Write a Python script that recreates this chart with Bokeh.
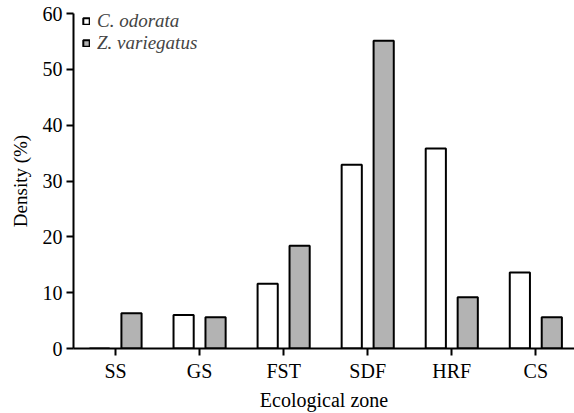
from bokeh.plotting import figure
from bokeh.models import Range1d, FixedTicker, ColumnDataSource, Legend, LegendItem
from bokeh.transform import dodge
from bokeh.embed import file_html
from bokeh.resources import INLINE

zones = ["SS", "GS", "FST", "SDF", "HRF", "CS"]
c_odorata = [0.0, 6.0, 11.6, 32.9, 35.8, 13.6]
z_variegatus = [6.3, 5.6, 18.4, 55.1, 9.2, 5.6]
y_ticks = [0, 10, 20, 30, 40, 50, 60]

FONT = "Liberation Serif"

src = ColumnDataSource(dict(x=list(range(len(zones))), c=c_odorata, z=z_variegatus))

p = figure(width=574, height=413, output_backend="svg", toolbar_location=None,
           x_range=Range1d(-0.5, 5.46), y_range=Range1d(0, 60),
           min_border_left=73, min_border_right=0, min_border_top=13, min_border_bottom=64)
p.outline_line_color = None
p.grid.visible = False

r1 = p.vbar(x=dodge("x", -0.19, range=p.x_range), top="c", width=0.24, source=src,
            fill_color="white", line_color="black", line_width=2)
r2 = p.vbar(x=dodge("x", 0.19, range=p.x_range), top="z", width=0.24, source=src,
            fill_color="#b3b3b3", line_color="black", line_width=2)

p.xaxis.ticker = FixedTicker(ticks=list(range(len(zones))))
p.xaxis.major_label_overrides = {i: z for i, z in enumerate(zones)}
p.yaxis.ticker = FixedTicker(ticks=y_ticks)

for ax in (p.xaxis[0], p.yaxis[0]):
    ax.axis_line_width = 2
    ax.major_tick_line_width = 2
    ax.major_tick_out = 7
    ax.major_tick_in = 0
    ax.minor_tick_out = 0
    ax.minor_tick_in = 0
    ax.major_label_text_font = FONT
    ax.major_label_text_font_size = "20px"
    ax.major_label_text_color = "black"
    ax.axis_label_text_font = FONT
    ax.axis_label_text_font_size = "20px"
    ax.axis_label_text_font_style = "normal"
    ax.axis_label_text_color = "black"
    ax.major_label_standoff = 4

p.xaxis.axis_label = "Ecological zone"
p.yaxis.axis_label = "Density (%)"
p.xaxis.axis_label_standoff = 4
p.yaxis.axis_label_standoff = 9
p.yaxis.axis_label_text_font_size = "19px"

legend = Legend(items=[LegendItem(label="C. odorata", renderers=[r1]),
                       LegendItem(label="Z. variegatus", renderers=[r2])],
                location=(9, 294), padding=0, margin=0, spacing=0,
                glyph_width=8, glyph_height=8, label_height=14, label_standoff=7,
                label_text_font=FONT, label_text_font_size="19px",
                label_text_font_style="italic", background_fill_alpha=0,
                border_line_alpha=0)
p.add_layout(legend)

open("out.html", "w").write(file_html(p, INLINE))
